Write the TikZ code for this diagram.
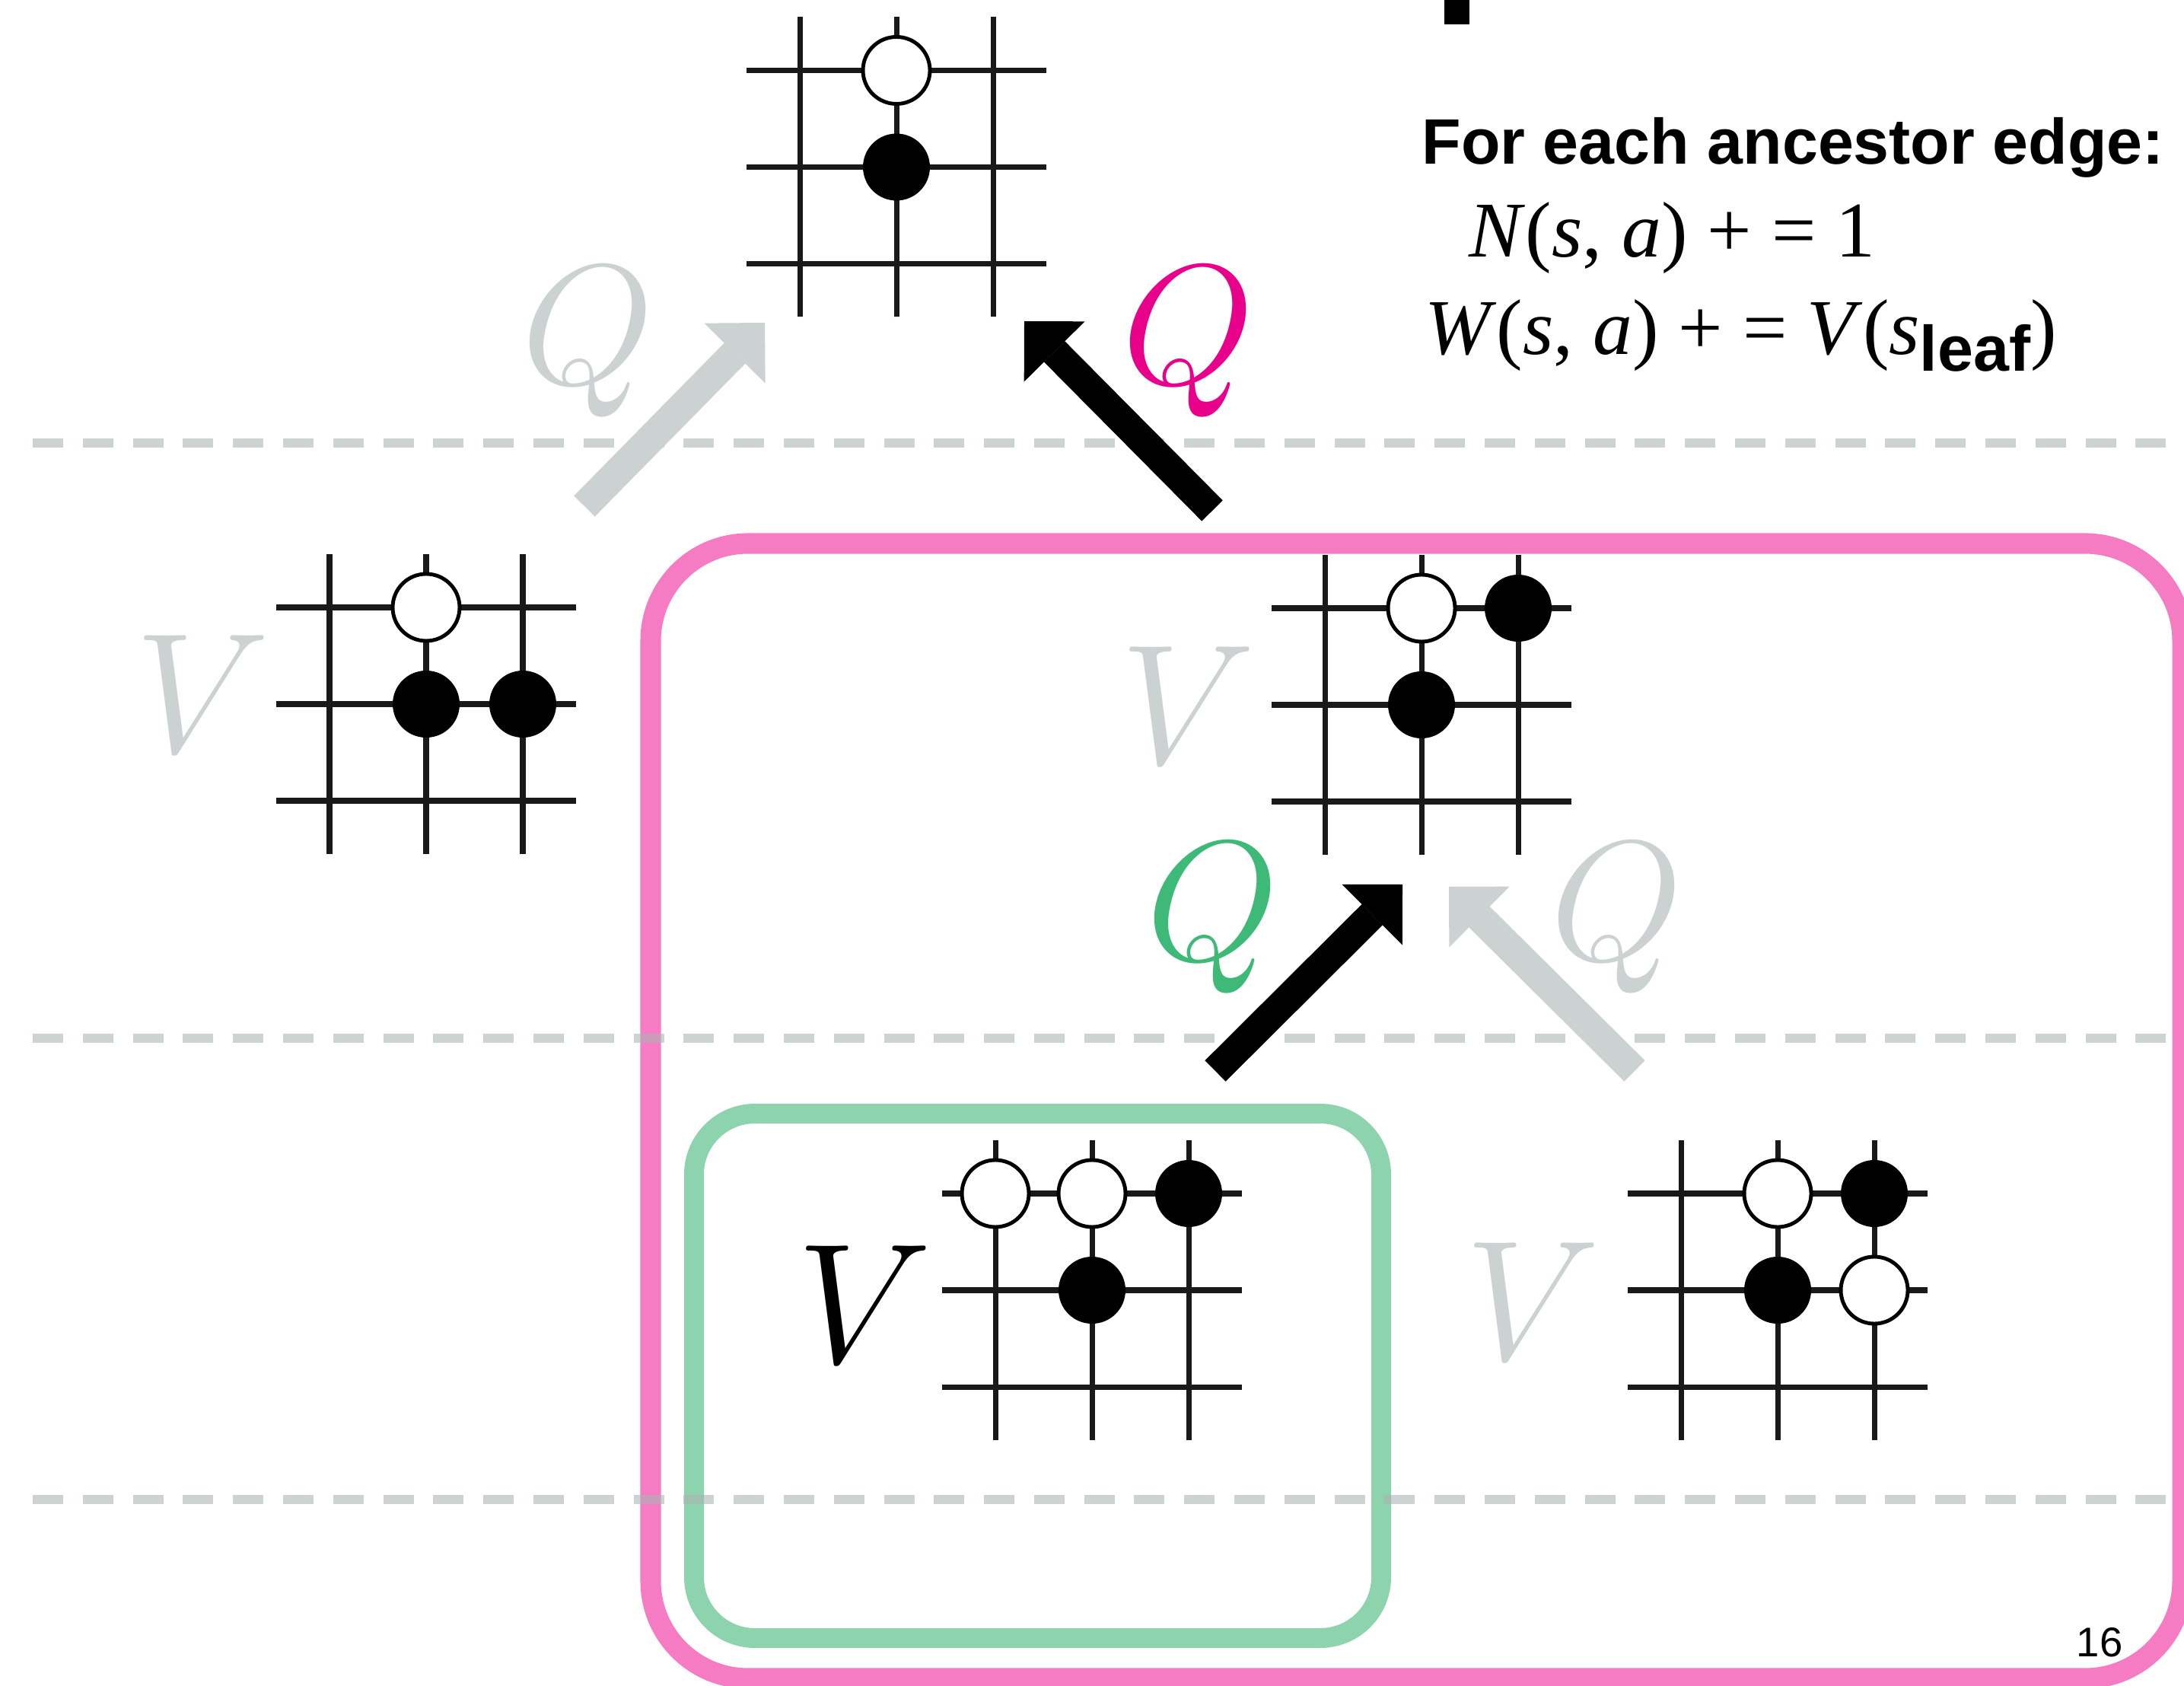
\documentclass[tikz,border=0pt]{standalone}
\usepackage{fix-cm}
\usepackage{fontspec}
\setmainfont{Liberation Serif}
\newfontfamily\helvfont{Liberation Sans}
\usetikzlibrary{arrows.meta, calc}

\definecolor{qgray}{RGB}{204,209,209}
\definecolor{dashgray}{RGB}{172,180,180}
\definecolor{pinkframe}{RGB}{245,124,195}
\definecolor{pinkq}{RGB}{232,0,138}
\definecolor{greenframe}{RGB}{140,211,174}
\definecolor{greenq}{RGB}{62,185,120}

\tikzset{
	gridline/.style = {line width = 2pt, black!90},
	blackstone/.style = {fill = black},
	whitestone/.style = {draw = black, line width = 1.4pt, fill = white},
	treearrow/.style = {line width = 11pt, -{Triangle[width = 32pt, length = 16pt, line width = 0pt]}},
	levelline/.style = {line width = 3.4pt, draw = dashgray, opacity = 0.6, dash pattern = on 11.38pt off 7.34pt},
	biglabel/.style = {inner sep = 0pt, anchor = base, font = \fontsize{64}{64}\selectfont},
	eqtext/.style = {inner sep = 0pt, anchor = base west, font = \fontsize{29.5}{29.5}\selectfont}
}

\newcommand{\goboard}[1]{%
	\foreach \k in {-1.27, 0, 1.27} {
			\draw[gridline] ($(#1) + (\k, -1.97)$) -- ($(#1) + (\k, 1.97)$);
			\draw[gridline] ($(#1) + (-1.97, \k)$) -- ($(#1) + (1.97, \k)$);
		}
}

\begin{document}
\begin{tikzpicture}
	\useasboundingbox (0, 0) rectangle (28.7, -22.15);

	\coordinate (root) at (11.78, -2.195);
	\coordinate (left) at (5.60, -9.25);
	\coordinate (mid) at (18.68, -9.26);
	\coordinate (leafa) at (14.35, -16.95);
	\coordinate (leafb) at (23.36, -16.95);

	\draw[pinkframe, line width = 7.7pt, rounded corners = 1.28cm] (8.55, -7.14) rectangle (28.68, -22.05);
	\draw[greenframe, line width = 7.4pt, rounded corners = 0.8cm] (9.12, -14.63) rectangle (18.15, -21.52);

	\foreach \y in {-5.82, -13.64, -19.70} {
			\draw[levelline] (0.43, \y) -- (28.7, \y);
		}

	\foreach \b in {root, left, mid, leafa, leafb} {
			\goboard{\b}
		}
	\foreach \b/\x/\y/\s in {root/0/1/whitestone, root/0/0/blackstone,
			left/0/1/whitestone, left/0/0/blackstone, left/1/0/blackstone,
			mid/0/1/whitestone, mid/1/1/blackstone, mid/0/0/blackstone,
			leafa/-1/1/whitestone, leafa/0/1/whitestone, leafa/1/1/blackstone, leafa/0/0/blackstone,
			leafb/0/1/whitestone, leafb/1/1/blackstone, leafb/0/0/blackstone, leafb/1/0/whitestone} {
			\path[\s] ($(\b) + (\x*1.27, \y*1.27)$) circle (0.44);
		}

	\coordinate (lefttail) at (7.68, -6.65);
	\coordinate (lefthead) at (10.05, -4.24);
	\coordinate (midtail) at (15.93, -6.71);
	\coordinate (midhead) at (13.46, -4.22);
	\coordinate (leafatail) at (15.97, -14.07);
	\coordinate (leafahead) at (18.43, -11.62);
	\coordinate (leafbtail) at (21.48, -14.07);
	\coordinate (leafbhead) at (19.04, -11.65);

	\draw[treearrow, qgray] (lefttail) -- (lefthead);
	\draw[treearrow, black] (midtail) -- (midhead);
	\draw[treearrow, black] (leafatail) -- (leafahead);
	\draw[treearrow, qgray] (leafbtail) -- (leafbhead);

	\node[biglabel, text = qgray] (vleft) at (2.66, -9.88) {$V$};
	\node[biglabel, text = qgray] (vmid) at (15.61, -10.03) {$V$};
	\node[biglabel] (vleafa) at (11.36, -17.90) {$V$};
	\node[biglabel, text = qgray] (vleafb) at (20.14, -17.86) {$V$};
	\node[biglabel, text = qgray] (qleft) at (7.73, -5.05) {$Q$};
	\node[biglabel, text = pinkq] (qmid) at (15.62, -5.05) {$Q$};
	\node[biglabel, text = greenq] (qleafa) at (15.94, -12.61) {$Q$};
	\node[biglabel, text = qgray] (qleafb) at (21.25, -12.61) {$Q$};

	\fill (18.98, 0) rectangle (19.31, -0.32);
	\node[inner sep = 0pt, anchor = base west, font = \helvfont\bfseries\fontsize{24}{24}\selectfont] (head) at (18.68, -2.16) {For each ancestor edge:};
	\node[eqtext] (nrule) at (19.30, -3.38) {\textit{N}(\textit{s}, \textit{a}) + = 1};
	\node[eqtext] (wrule) at (18.72, -4.66) {\textit{W}(\textit{s}, \textit{a}) + = \textit{V}(\textit{s}\raisebox{-6pt}{\helvfont\bfseries\fontsize{24}{24}\selectfont leaf})};
	\node[inner sep = 0pt, font = \helvfont\fontsize{15.5}{15.5}\selectfont] (pagenum) at (27.59, -21.58) {16};
\end{tikzpicture}
\end{document}
